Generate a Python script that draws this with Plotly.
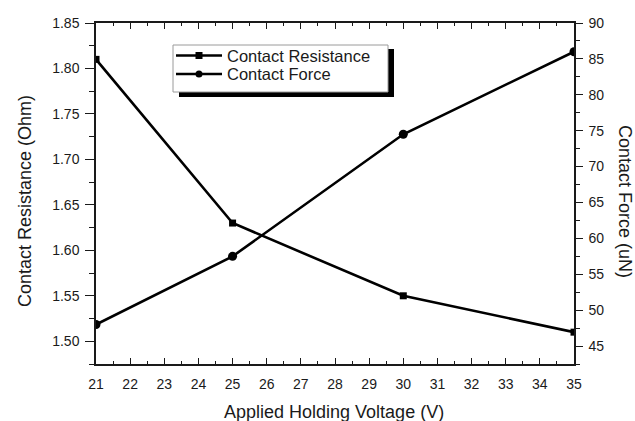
import plotly.graph_objects as go

# Holding voltage sweep and the measured responses
voltage = [21, 25, 30, 35]
resistance_ohm = [1.81, 1.63, 1.55, 1.51]
force_un = [48, 57.5, 74.5, 86]

x_ticks = list(range(21, 36))
series_names = ["Contact Resistance", "Contact Force"]

FONT = "Liberation Sans, Arial, sans-serif"
INK = "#1a1a1a"

# Plot area in pixels (figure is 635 x 421)
L, R, T, B = 96, 574, 23, 364


def px(xp, yp):
    """Pixel position -> paper coordinates."""
    return (xp - L) / (R - L), (B - yp) / (B - T)


fig = go.Figure()

fig.add_trace(go.Scatter(
    x=voltage, y=resistance_ohm, name=series_names[0],
    mode="lines+markers",
    line=dict(color="black", width=2.6),
    marker=dict(symbol="square", size=7, color="black"),
    yaxis="y",
))
fig.add_trace(go.Scatter(
    x=voltage, y=force_un, name=series_names[1],
    mode="lines+markers",
    line=dict(color="black", width=2.6),
    marker=dict(symbol="circle", size=9, color="black"),
    yaxis="y2",
))

tick_font = dict(family=FONT, size=14, color=INK)
title_font = dict(family=FONT, size=18, color=INK)

fig.update_layout(
    width=635, height=421,
    margin=dict(l=L, r=635 - R, t=T, b=421 - B),
    paper_bgcolor="white", plot_bgcolor="white",
    font=dict(family=FONT, color=INK),
    showlegend=False,
    xaxis=dict(
        range=[21, 35], tickmode="array", tickvals=x_ticks,
        ticks="inside", ticklen=6, tickwidth=1.2, tickcolor=INK,
        showline=True, linecolor=INK, linewidth=1.5, mirror="ticks",
        showgrid=False, zeroline=False, tickfont=tick_font,
        ticklabelstandoff=6,
        minor=dict(dtick=0.5, ticks="inside", ticklen=3, tickcolor=INK),
    ),
    yaxis=dict(
        range=[1.475, 1.85], dtick=0.05, tickformat=".2f",
        ticks="outside", ticklen=9, tickwidth=1.2, tickcolor=INK,
        showline=True, linecolor=INK, linewidth=1.5,
        showgrid=False, zeroline=False, tickfont=tick_font,
        ticklabelstandoff=3,
        minor=dict(dtick=0.025, ticks="outside", ticklen=5, tickcolor=INK),
    ),
    yaxis2=dict(
        range=[42.5, 90], dtick=5, overlaying="y", side="right",
        ticks="outside", ticklen=7, tickwidth=1.2, tickcolor=INK,
        showline=True, linecolor=INK, linewidth=1.5,
        showgrid=False, zeroline=False, tickfont=tick_font,
        ticklabelstandoff=3,
        minor=dict(dtick=2.5, ticks="outside", ticklen=4, tickcolor=INK),
    ),
)

# Axis titles
title_kw = dict(xref="paper", yref="paper", showarrow=False, font=title_font,
                xanchor="center", yanchor="middle")
x, y = px(334, 412)
fig.add_annotation(text="Applied Holding Voltage (V)", x=x, y=y, **title_kw)
x, y = px(25, 201)
fig.add_annotation(text="Contact Resistance (Ohm)", x=x, y=y, textangle=-90, **title_kw)
x, y = px(625, 201)
fig.add_annotation(text="Contact Force (uN)", x=x, y=y, textangle=90, **title_kw)

# Legend box with a solid drop shadow
x0, y0 = px(179, 97)
x1, y1 = px(394, 49)
fig.add_shape(type="rect", xref="paper", yref="paper", x0=x0, x1=x1, y0=y0, y1=y1,
              fillcolor="black", line=dict(width=0), layer="above")
x0, y0 = px(173, 92)
x1, y1 = px(388, 45)
fig.add_shape(type="rect", xref="paper", yref="paper", x0=x0, x1=x1, y0=y0, y1=y1,
              fillcolor="white", line=dict(color="#9a9a9a", width=1), layer="above")

for row, (name, sym) in enumerate(zip(series_names, ["square", "circle"])):
    yp = 55.5 + row * 18.5
    lx0, ly = px(176, yp)
    lx1, _ = px(222, yp)
    fig.add_shape(type="line", xref="paper", yref="paper", x0=lx0, x1=lx1, y0=ly, y1=ly,
                  line=dict(color="black", width=2.6), layer="above")
    mx0, my0 = px(195.5, yp + 3.5)
    mx1, my1 = px(202.5, yp - 3.5)
    fig.add_shape(type="rect" if sym == "square" else "circle",
                  xref="paper", yref="paper", x0=mx0, x1=mx1, y0=my0, y1=my1,
                  fillcolor="black", line=dict(width=0), layer="above")
    tx, ty = px(225, yp)
    fig.add_annotation(text=name, xref="paper", yref="paper", x=tx, y=ty,
                       xanchor="left", yanchor="middle", showarrow=False,
                       font=dict(family=FONT, size=16.5, color=INK))

fig.write_html("out.html")
